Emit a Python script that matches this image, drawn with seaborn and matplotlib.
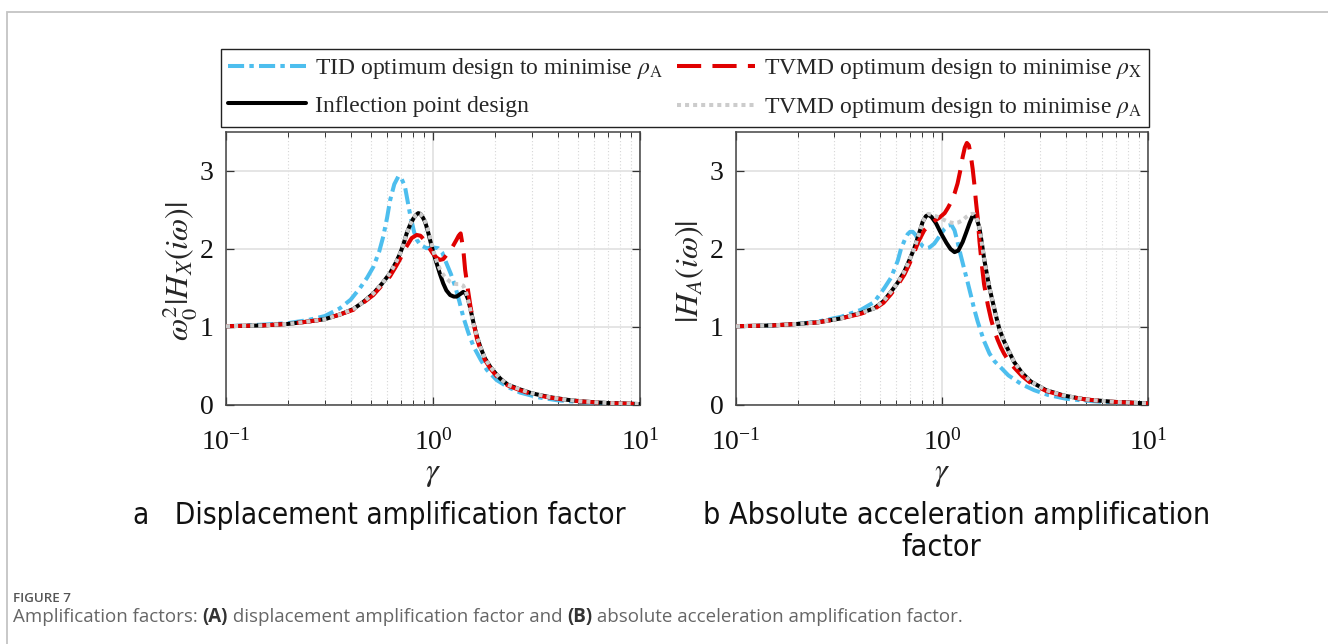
import numpy as np
import pandas as pd
import matplotlib
matplotlib.use("Agg")
import matplotlib.pyplot as plt
import seaborn as sns
from matplotlib.patches import Rectangle
from matplotlib.ticker import LogLocator, NullLocator, FixedLocator, LogFormatterMathtext
from matplotlib import font_manager as fm

# ---------------- data ----------------
# Panel a: displacement amplification factor
a_tid_g = [0.1, 0.15, 0.2, 0.25, 0.3, 0.355, 0.4, 0.444, 0.48, 0.515, 0.55, 0.575, 0.6, 0.62, 0.65, 0.68,
           0.70, 0.732, 0.774, 0.81, 0.834, 0.87, 0.932, 1.0, 1.06, 1.11, 1.16, 1.22, 1.28, 1.34, 1.40, 1.48,
           1.57, 1.7, 1.82, 2.03, 2.3, 2.63, 3.2, 4.0, 5.0, 6.5, 8.0, 10.0]
a_tid_v = [1.01, 1.03, 1.05, 1.09, 1.14, 1.24, 1.35, 1.50, 1.63, 1.77, 1.97, 2.16, 2.40, 2.62, 2.83, 2.93,
           2.92, 2.80, 2.45, 2.22, 2.12, 2.05, 2.01, 2.02, 2.01, 1.95, 1.82, 1.68, 1.52, 1.33, 1.13, 0.93,
           0.75, 0.58, 0.45, 0.32, 0.23, 0.16, 0.10, 0.06, 0.04, 0.025, 0.018, 0.012]

a_inf_g = [0.1, 0.15, 0.2, 0.25, 0.3, 0.355, 0.412, 0.46, 0.515, 0.565, 0.62, 0.66, 0.693, 0.72, 0.746, 0.775,
           0.804, 0.83, 0.849, 0.87, 0.895, 0.915, 0.94, 0.967, 1.0, 1.04, 1.08, 1.12, 1.16, 1.21, 1.26, 1.30,
           1.35, 1.40, 1.44, 1.48, 1.52, 1.57, 1.63, 1.69, 1.78, 1.89, 2.0, 2.11, 2.3, 2.63, 3.0, 3.67, 4.5,
           5.32, 7.0, 10.0]
a_inf_v = [1.01, 1.02, 1.04, 1.07, 1.10, 1.16, 1.23, 1.32, 1.43, 1.55, 1.69, 1.82, 1.94, 2.06, 2.20, 2.31,
           2.39, 2.44, 2.46, 2.45, 2.40, 2.35, 2.25, 2.12, 1.97, 1.82, 1.68, 1.56, 1.47, 1.41, 1.39, 1.39,
           1.42, 1.45, 1.43, 1.35, 1.22, 1.05, 0.88, 0.75, 0.60, 0.49, 0.41, 0.34, 0.26, 0.20, 0.15, 0.10, 0.065,
           0.045, 0.025, 0.012]

a_tvx_g = [0.1, 0.15, 0.2, 0.25, 0.3, 0.355, 0.412, 0.46, 0.515, 0.565, 0.62, 0.66, 0.693, 0.74, 0.789, 0.834,
           0.87, 0.898, 0.95, 1.0, 1.04, 1.08, 1.12, 1.16, 1.21, 1.25, 1.30, 1.33, 1.36, 1.40, 1.43, 1.48, 1.52,
           1.57, 1.63, 1.69, 1.78, 1.89, 2.0, 2.11, 2.3, 2.63, 3.0, 3.67, 4.5, 5.32, 7.0, 10.0]
a_tvx_v = [1.01, 1.02, 1.04, 1.07, 1.10, 1.16, 1.22, 1.31, 1.41, 1.53, 1.65, 1.77, 1.87, 2.02, 2.14, 2.18,
           2.17, 2.13, 2.03, 1.94, 1.89, 1.86, 1.87, 1.92, 1.98, 2.04, 2.12, 2.17, 2.20, 2.00, 1.73, 1.45, 1.25,
           1.05, 0.85, 0.72, 0.58, 0.47, 0.39, 0.32, 0.25, 0.19, 0.14, 0.095, 0.062, 0.043, 0.024, 0.012]

a_tva_g = [0.1, 0.15, 0.2, 0.25, 0.3, 0.355, 0.412, 0.46, 0.515, 0.565, 0.62, 0.66, 0.693, 0.72, 0.746, 0.775,
           0.804, 0.83, 0.849, 0.87, 0.895, 0.915, 0.94, 0.967, 1.0, 1.04, 1.08, 1.12, 1.16, 1.21, 1.26, 1.30,
           1.35, 1.40, 1.44, 1.48, 1.52, 1.57, 1.63, 1.69, 1.78, 1.89, 2.0, 2.11, 2.3, 2.63, 3.0, 3.67, 4.5,
           5.32, 7.0, 10.0]
a_tva_v = [1.01, 1.02, 1.04, 1.07, 1.10, 1.16, 1.23, 1.32, 1.43, 1.55, 1.69, 1.82, 1.94, 2.06, 2.20, 2.31,
           2.39, 2.44, 2.46, 2.45, 2.41, 2.36, 2.27, 2.15, 1.99, 1.85, 1.74, 1.67, 1.62, 1.58, 1.56, 1.55,
           1.55, 1.53, 1.46, 1.34, 1.20, 1.04, 0.88, 0.75, 0.60, 0.49, 0.41, 0.34, 0.26, 0.20, 0.15, 0.10, 0.065,
           0.045, 0.025, 0.012]

# Panel b: absolute acceleration amplification factor
b_tid_g = [0.1, 0.15, 0.2, 0.25, 0.323, 0.404, 0.469, 0.525, 0.565, 0.61, 0.632, 0.66, 0.681, 0.70, 0.721,
           0.745, 0.776, 0.81, 0.836, 0.87, 0.918, 0.97, 1.03, 1.07, 1.11, 1.15, 1.19, 1.23, 1.28, 1.33, 1.38,
           1.43, 1.49, 1.55, 1.60, 1.70, 1.80, 1.93, 2.1, 2.42, 2.8, 3.26, 4.0, 4.73, 6.0, 8.0, 10.0]
b_tid_v = [1.01, 1.02, 1.04, 1.07, 1.13, 1.22, 1.32, 1.50, 1.63, 1.85, 2.00, 2.12, 2.19, 2.22, 2.22,
           2.18, 2.09, 2.03, 2.01, 2.02, 2.07, 2.16, 2.26, 2.30, 2.31, 2.24, 2.09, 1.93, 1.75, 1.58, 1.41,
           1.24, 1.07, 0.93, 0.82, 0.66, 0.56, 0.48, 0.38, 0.27, 0.19, 0.13, 0.08, 0.06, 0.04, 0.03, 0.02]

b_inf_g = [0.1, 0.15, 0.2, 0.25, 0.323, 0.404, 0.469, 0.52, 0.565, 0.61, 0.656, 0.695, 0.734, 0.77, 0.806,
           0.835, 0.858, 0.89, 0.935, 0.99, 1.05, 1.10, 1.15, 1.20, 1.26, 1.31, 1.36, 1.40, 1.43, 1.47, 1.52,
           1.56, 1.60, 1.64, 1.70, 1.76, 1.83, 1.90, 2.0, 2.1, 2.24, 2.45, 2.7, 3.2, 3.92, 5.0, 6.86, 10.0]
b_inf_v = [1.01, 1.02, 1.04, 1.06, 1.11, 1.18, 1.24, 1.33, 1.45, 1.57, 1.71, 1.86, 2.01, 2.18, 2.35,
           2.42, 2.44, 2.41, 2.33, 2.20, 2.08, 2.00, 1.96, 1.98, 2.09, 2.21, 2.33, 2.41, 2.44, 2.40, 2.27,
           2.08, 1.88, 1.72, 1.50, 1.33, 1.14, 0.97, 0.82, 0.70, 0.55, 0.41, 0.30, 0.19, 0.12, 0.07, 0.04, 0.02]

b_tvx_g = [0.1, 0.15, 0.2, 0.25, 0.323, 0.404, 0.469, 0.52, 0.565, 0.61, 0.656, 0.695, 0.734, 0.77, 0.82,
           0.87, 0.918, 0.97, 1.03, 1.07, 1.11, 1.15, 1.19, 1.23, 1.26, 1.29, 1.32, 1.35, 1.38, 1.41, 1.44,
           1.46, 1.49, 1.52, 1.56, 1.60, 1.67, 1.73, 1.79, 1.86, 1.93, 2.0, 2.1, 2.24, 2.45, 2.7, 3.2, 3.92,
           5.0, 6.86, 10.0]
b_tvx_v = [1.01, 1.02, 1.04, 1.06, 1.11, 1.17, 1.23, 1.31, 1.42, 1.54, 1.67, 1.81, 1.96, 2.10, 2.24,
           2.31, 2.36, 2.40, 2.46, 2.53, 2.61, 2.71, 2.84, 3.02, 3.18, 3.30, 3.36, 3.33, 3.20, 3.02, 2.80,
           2.62, 2.40, 2.10, 1.80, 1.55, 1.28, 1.10, 0.96, 0.84, 0.74, 0.66, 0.57, 0.48, 0.37, 0.28, 0.18, 0.115,
           0.07, 0.04, 0.02]

b_tva_g = [0.1, 0.15, 0.2, 0.25, 0.323, 0.404, 0.469, 0.52, 0.565, 0.61, 0.656, 0.695, 0.734, 0.77, 0.806,
           0.835, 0.858, 0.89, 0.935, 0.99, 1.05, 1.10, 1.15, 1.20, 1.26, 1.31, 1.36, 1.40, 1.43, 1.47, 1.52,
           1.56, 1.60, 1.64, 1.70, 1.76, 1.83, 1.90, 2.0, 2.1, 2.24, 2.45, 2.7, 3.2, 3.92, 5.0, 6.86, 10.0]
b_tva_v = [1.01, 1.02, 1.04, 1.06, 1.11, 1.18, 1.24, 1.33, 1.45, 1.57, 1.71, 1.86, 2.01, 2.18, 2.35,
           2.42, 2.45, 2.44, 2.42, 2.39, 2.36, 2.34, 2.33, 2.34, 2.37, 2.41, 2.44, 2.45, 2.45, 2.40, 2.27,
           2.08, 1.88, 1.72, 1.50, 1.33, 1.14, 0.97, 0.82, 0.70, 0.55, 0.41, 0.30, 0.19, 0.12, 0.07, 0.04, 0.02]

series_labels = [r"TID optimum design to minimise $\rho_{\mathrm{A}}$",
                 r"Inflection point design",
                 r"TVMD optimum design to minimise $\rho_{\mathrm{X}}$",
                 r"TVMD optimum design to minimise $\rho_{\mathrm{A}}$"]
xtick_vals = [0.1, 1.0, 10.0]
ytick_vals = [0, 1, 2, 3]

# ---------------- style ----------------
sns.set_theme(style="ticks")
plt.rcParams["font.family"] = ["Liberation Serif", "DejaVu Serif"]
plt.rcParams["mathtext.fontset"] = "stix"
plt.rcParams["axes.unicode_minus"] = False

W, H = 1328, 644
fig = plt.figure(figsize=(W / 100, H / 100), dpi=100)
fig.patch.set_facecolor("white")

def fx(px):
    return px / W

def fy(py):
    return 1 - py / H

# outer light border of the figure panel
fig.patches.append(Rectangle((fx(7), -0.2), 1.3, fy(12) + 0.2, transform=fig.transFigure,
                             fill=False, edgecolor="#c4c4c4", lw=1.3, zorder=0))

ax_a = fig.add_axes([fx(226), fy(405), fx(640) - fx(226), fy(132) - fy(405)])
ax_b = fig.add_axes([fx(736), fy(405), fx(1148) - fx(736), fy(132) - fy(405)])

c_blue = "#4DBEEE"
c_red = "#E00000"
c_black = "#000000"
c_gray = "#CCCCCC"
LW = 2.9
styles = [
    dict(color=c_blue, linestyle=(0, (4.0, 1.3, 1.1, 1.3)), zorder=3),
    dict(color=c_black, linestyle="-", zorder=4),
    dict(color=c_red, linestyle=(0, (6.0, 2.8)), zorder=5),
    dict(color=c_gray, linestyle=(0, (1.0, 1.0)), zorder=6),
]

panels = [
    (ax_a, [(a_tid_g, a_tid_v), (a_inf_g, a_inf_v), (a_tvx_g, a_tvx_v), (a_tva_g, a_tva_v)],
     r"$\omega_0^2|H_X(i\omega)|$", -0.066),
    (ax_b, [(b_tid_g, b_tid_v), (b_inf_g, b_inf_v), (b_tvx_g, b_tvx_v), (b_tva_g, b_tva_v)],
     r"$|H_A(i\omega)|$", -0.072),
]

for ax, sers, ylab, ylx in panels:
    for (g, v), st, lab in zip(sers, styles, series_labels):
        df = pd.DataFrame({"gamma": g, "val": v})
        sns.lineplot(data=df, x="gamma", y="val", ax=ax, estimator=None, sort=False,
                     legend=False, label=lab, linewidth=LW, **st)
    ax.set_xscale("log")
    ax.set_xlim(0.1, 10)
    ax.set_ylim(0, 3.5)
    ax.xaxis.set_major_locator(FixedLocator(xtick_vals))
    ax.xaxis.set_minor_locator(LogLocator(base=10, subs=np.arange(2, 10)))
    ax.yaxis.set_major_locator(FixedLocator(ytick_vals))
    ax.yaxis.set_minor_locator(NullLocator())
    ax.xaxis.set_major_formatter(LogFormatterMathtext())
    ax.set_axisbelow(True)
    ax.grid(True, which="major", axis="both", color="#e3e3e3", lw=1.3, ls="-")
    ax.grid(True, which="minor", axis="x", color="#d6d6d6", lw=0.8, ls=(0, (1, 2)))
    ax.tick_params(which="both", direction="in", top=True, right=True, colors="#333333",
                   labelcolor="#111111", labelsize=20)
    ax.tick_params(which="major", length=6, width=0.9)
    ax.tick_params(axis="x", which="major", pad=17)
    ax.tick_params(axis="y", which="major", pad=9)
    ax.tick_params(which="minor", length=3.5, width=0.7)
    for sp in ax.spines.values():
        sp.set_color("#444444")
        sp.set_linewidth(1.1)
    ax.set_xlabel(r"$\gamma$", fontsize=23)
    ax.xaxis.set_label_coords(0.5, -0.20)
    ax.set_ylabel(ylab, fontsize=23)
    ax.yaxis.set_label_coords(ylx, 0.49)

# legend
handles, labels = ax_a.get_legend_handles_labels()
leg = fig.legend(handles, labels, loc="center", bbox_to_anchor=(fx(685), fy(88)), ncol=2,
                 fontsize=17, frameon=True, fancybox=False, framealpha=1, edgecolor="#222222",
                 handlelength=3.3, handletextpad=0.4, columnspacing=0.6, borderpad=0.3,
                 labelspacing=0.6)
leg.get_frame().set_linewidth(1.0)

# subcaptions
names = {f.name for f in fm.fontManager.ttflist}
if "Liberation Sans Narrow" in names:
    sub_font = dict(family="Liberation Sans Narrow")
else:
    sub_font = dict(family="DejaVu Sans", stretch="condensed")

fig.canvas.draw()
renderer = fig.canvas.get_renderer()

def fit_text(x, y, s, target_w, size0, ha="left", **kw):
    t = fig.text(x, y, s, fontsize=size0, ha=ha, va="center", **kw)
    w = t.get_window_extent(renderer).width
    t.set_fontsize(size0 * target_w / w)
    return t

fit_text(fx(133), fy(515), "a   Displacement amplification factor", 495, 24, color="#111111", **sub_font)
t_ref = fit_text(fx(703), fy(515), "b Absolute acceleration amplification", 509, 24, color="#111111", **sub_font)
fig.text(fx(941), fy(548), "factor", fontsize=t_ref.get_fontsize(), ha="center", va="center",
         color="#111111", **sub_font)

# figure caption
cap_font = ["Open Sans", "DejaVu Sans"]
fit_text(fx(13), fy(598), "FIGURE 7", 58, 10, color="#555555", family=cap_font, weight="semibold")
pieces = [("Amplification factors: ", "normal", "#666666"),
          ("(A)", "bold", "#333333"),
          (" displacement amplification factor and ", "normal", "#666666"),
          ("(B)", "bold", "#333333"),
          (" absolute acceleration amplification factor.", "normal", "#666666")]
cap_size = 11.8
tmp = [fig.text(0, 0, s, fontsize=cap_size, family=cap_font, weight=wgt) for s, wgt, _ in pieces]
total = sum(t.get_window_extent(renderer).width for t in tmp)
for t in tmp:
    t.remove()
cap_size = cap_size * 952 / total
x = 13
for s, wgt, col in pieces:
    t = fig.text(fx(x), fy(617), s, fontsize=cap_size, ha="left", va="center", color=col,
                 family=cap_font, weight=wgt)
    x += t.get_window_extent(renderer).width

fig.savefig("out.png", dpi=100, facecolor="white")
